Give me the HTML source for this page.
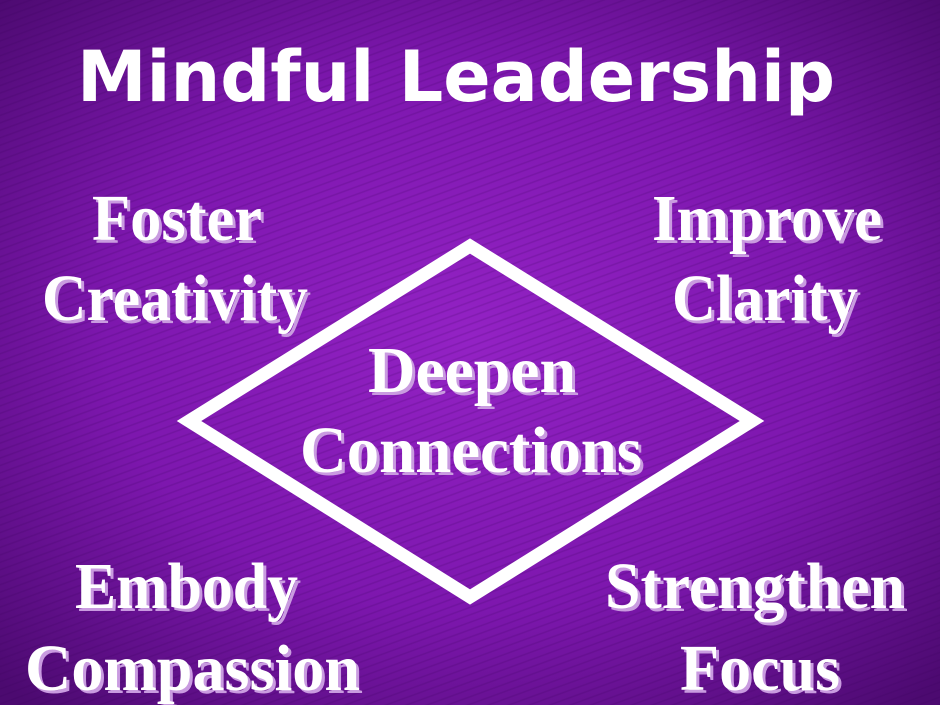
<!DOCTYPE html>
<html><head><meta charset="utf-8"><style>
html,body{margin:0;padding:0;width:940px;height:705px;overflow:hidden;background:#6a12a0}
svg{display:block}
.s{font-family:"Liberation Serif",serif;font-weight:bold;font-size:66px}
</style></head><body>
<svg width="940" height="705" viewBox="0 0 940 705" xmlns="http://www.w3.org/2000/svg">
<defs>
<radialGradient id="bg" cx="50%" cy="48%" r="70%">
<stop offset="0" stop-color="#9322c4"/>
<stop offset="0.55" stop-color="#7d17ae"/>
<stop offset="1" stop-color="#4c0a70"/>
</radialGradient>
<pattern id="tx" width="14" height="7" patternUnits="userSpaceOnUse" patternTransform="rotate(-20)">
<line x1="0" y1="3.5" x2="14" y2="3.5" stroke="#3a0058" stroke-opacity="0.18" stroke-width="1.5"/>
</pattern>
</defs>
<rect width="940" height="705" fill="url(#bg)"/>
<rect width="940" height="705" fill="url(#tx)"/>
<polygon points="470,246 752,421 470,597 189,421" fill="none" stroke="#fff" stroke-width="13" stroke-linejoin="miter"/>
<text x="77" y="101" textLength="758" lengthAdjust="spacingAndGlyphs" font-family="'DejaVu Sans','Liberation Sans',sans-serif" font-weight="bold" font-size="70" fill="#fff">Mindful Leadership</text>
<g class="s" fill="#c99be0" transform="translate(3,3)">
<text x="92" y="240" textLength="170" lengthAdjust="spacingAndGlyphs">Foster</text>
<text x="42" y="320" textLength="266" lengthAdjust="spacingAndGlyphs">Creativity</text>
<text x="652" y="240" textLength="230" lengthAdjust="spacingAndGlyphs">Improve</text>
<text x="672" y="320" textLength="186" lengthAdjust="spacingAndGlyphs">Clarity</text>
<text x="368" y="392" textLength="208" lengthAdjust="spacingAndGlyphs">Deepen</text>
<text x="300" y="472" textLength="342" lengthAdjust="spacingAndGlyphs">Connections</text>
<text x="75" y="608" textLength="223" lengthAdjust="spacingAndGlyphs">Embody</text>
<text x="25" y="690" textLength="335" lengthAdjust="spacingAndGlyphs">Compassion</text>
<text x="605" y="608" textLength="300" lengthAdjust="spacingAndGlyphs">Strengthen</text>
<text x="680" y="690" textLength="160" lengthAdjust="spacingAndGlyphs">Focus</text>
</g>
<g class="s" fill="#fff">
<text x="92" y="240" textLength="170" lengthAdjust="spacingAndGlyphs">Foster</text>
<text x="42" y="320" textLength="266" lengthAdjust="spacingAndGlyphs">Creativity</text>
<text x="652" y="240" textLength="230" lengthAdjust="spacingAndGlyphs">Improve</text>
<text x="672" y="320" textLength="186" lengthAdjust="spacingAndGlyphs">Clarity</text>
<text x="368" y="392" textLength="208" lengthAdjust="spacingAndGlyphs">Deepen</text>
<text x="300" y="472" textLength="342" lengthAdjust="spacingAndGlyphs">Connections</text>
<text x="75" y="608" textLength="223" lengthAdjust="spacingAndGlyphs">Embody</text>
<text x="25" y="690" textLength="335" lengthAdjust="spacingAndGlyphs">Compassion</text>
<text x="605" y="608" textLength="300" lengthAdjust="spacingAndGlyphs">Strengthen</text>
<text x="680" y="690" textLength="160" lengthAdjust="spacingAndGlyphs">Focus</text>
</g>
</svg>
</body></html>
